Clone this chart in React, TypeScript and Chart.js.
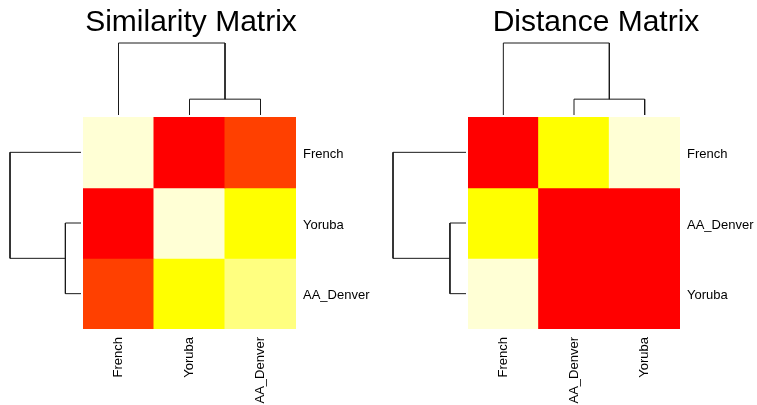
import React, { useEffect, useRef } from 'react';
import { Chart, registerables } from 'chart.js';

Chart.register(...registerables);

const FONT = "'Liberation Sans', Arial, Helvetica, sans-serif";
const LINE_COLOR = '#1a1a1a';

// heat.colors(12): red -> orange -> yellow -> pale yellow
const HEAT_COLORS = [
  '#FF0000', '#FF2000', '#FF4000', '#FF6000', '#FF8000', '#FF9F00',
  '#FFBF00', '#FFDF00', '#FFFF00', '#FFFF2A', '#FFFF80', '#FFFFD5',
];

// Similarity matrix (rows/columns in dendrogram order)
const SIM_TITLE = 'Similarity Matrix';
const SIM_ROWS = ['French', 'Yoruba', 'AA_Denver'];
const SIM_COLS = ['French', 'Yoruba', 'AA_Denver'];
const SIM_VALUES = [
  [1.0, 0.0, 0.2],
  [0.0, 1.0, 0.7],
  [0.2, 0.7, 0.88],
];
// hclust-style merges: negative = leaf (1-based display position), positive = earlier merge
const SIM_MERGE = [[-2, -3], [-1, 1]];
const SIM_HEIGHT = [0.22, 1.0];

// Distance matrix
const DIST_TITLE = 'Distance Matrix';
const DIST_ROWS = ['French', 'AA_Denver', 'Yoruba'];
const DIST_COLS = ['French', 'AA_Denver', 'Yoruba'];
const DIST_VALUES = [
  [0.0, 0.7, 1.0],
  [0.7, 0.0, 0.04],
  [1.0, 0.04, 0.0],
];
const DIST_MERGE = [[-2, -3], [-1, 1]];
const DIST_HEIGHT = [0.22, 1.0];

type Pt = { pos: number; h: number };

function dendroLinks(merge: number[][], height: number[]): Pt[][] {
  const nodes: Pt[] = [];
  const node = (id: number): Pt => (id < 0 ? { pos: -id - 0.5, h: 0 } : nodes[id - 1]);
  const links: Pt[][] = [];
  merge.forEach(([a, b], k) => {
    const na = node(a);
    const nb = node(b);
    const h = height[k];
    links.push([
      { pos: na.pos, h: na.h },
      { pos: na.pos, h },
      { pos: nb.pos, h },
      { pos: nb.pos, h: nb.h },
    ]);
    nodes.push({ pos: (na.pos + nb.pos) / 2, h });
  });
  return links;
}

function colorFor(v: number, values: number[][]): string {
  const flat = values.flat();
  const lo = Math.min(...flat);
  const hi = Math.max(...flat);
  const n = HEAT_COLORS.length;
  const idx = Math.min(n - 1, Math.floor(((v - lo) / (hi - lo)) * n));
  return HEAT_COLORS[idx];
}

// fixed-size axis box; label overhang padding is dropped so the plot area stays put
const fixSize = (dim: 'width' | 'height', size: number) => (s: any) => {
  s[dim] = size;
  s.paddingTop = 0;
  s.paddingBottom = 0;
  s.paddingLeft = 0;
  s.paddingRight = 0;
};

const hiddenAxis = (width: number, position: 'left' | 'right') => ({
  type: 'linear' as const,
  position,
  display: true,
  grid: { display: false, drawTicks: false },
  border: { display: false },
  ticks: { display: false },
  afterFit: fixSize('width', width),
});

function topDendroConfig(title: string, merge: number[][], height: number[], nCols: number, axL: number, axR: number): any {
  const links = dendroLinks(merge, height);
  return {
    type: 'scatter',
    data: {
      datasets: links.map((l) => ({
        data: l.map((p) => ({ x: p.pos, y: p.h })),
        showLine: true,
        borderColor: LINE_COLOR,
        borderWidth: 1,
        pointRadius: 0,
        tension: 0,
        clip: false,
      })),
    },
    options: {
      animation: false,
      responsive: false,
      events: [],
      layout: { padding: { top: 0, bottom: 2, left: 0, right: 0 } },
      plugins: {
        legend: { display: false },
        tooltip: { enabled: false },
        title: {
          display: true,
          text: title,
          color: '#000',
          font: { family: FONT, size: 30, weight: 'normal', lineHeight: 1.2 },
          padding: { top: 5, bottom: 2 },
        },
      },
      scales: {
        x: { type: 'linear', min: 0, max: nCols, display: false },
        y: { ...hiddenAxis(axL, 'left'), min: 0, max: Math.max(...height) },
        y2: { ...hiddenAxis(axR, 'right'), min: 0, max: 1 },
      },
    },
  };
}

function leftDendroConfig(merge: number[][], height: number[], nRows: number, padL: number): any {
  const links = dendroLinks(merge, height);
  return {
    type: 'scatter',
    data: {
      datasets: links.map((l) => ({
        data: l.map((p) => ({ x: p.h, y: p.pos })),
        showLine: true,
        borderColor: LINE_COLOR,
        borderWidth: 1,
        pointRadius: 0,
        tension: 0,
        clip: false,
      })),
    },
    options: {
      animation: false,
      responsive: false,
      events: [],
      layout: { padding: { top: 0, bottom: 0, left: padL, right: 2 } },
      plugins: { legend: { display: false }, tooltip: { enabled: false } },
      scales: {
        x: { type: 'linear', min: 0, max: Math.max(...height), reverse: true, display: false },
        y: { type: 'linear', min: 0, max: nRows, reverse: true, display: false },
      },
    },
  };
}

function heatmapConfig(rows: string[], cols: string[], values: number[][], rightAxis: number, bottomAxis: number): any {
  return {
    type: 'bar',
    data: {
      labels: cols,
      datasets: rows.map((r, i) => ({
        label: r,
        data: cols.map(() => [i, i + 1]),
        backgroundColor: values[i].map((v) => colorFor(v, values)),
        borderWidth: 0,
        barPercentage: 1,
        categoryPercentage: 1,
        grouped: false,
        inflateAmount: 0.5,
      })),
    },
    options: {
      animation: false,
      responsive: false,
      events: [],
      layout: { padding: 0 },
      plugins: { legend: { display: false }, tooltip: { enabled: false } },
      scales: {
        x: {
          type: 'category',
          position: 'bottom',
          grid: { display: false, drawTicks: false },
          border: { display: false },
          ticks: {
            color: '#000',
            font: { family: FONT, size: 13 },
            minRotation: 90,
            maxRotation: 90,
            autoSkip: false,
            padding: 8,
          },
          afterFit: fixSize('height', bottomAxis),
        },
        y: {
          type: 'linear',
          position: 'right',
          min: 0,
          max: rows.length,
          reverse: true,
          grid: { display: false, drawTicks: false },
          border: { display: false },
          afterBuildTicks: (s: any) => {
            s.ticks = rows.map((_, i) => ({ value: i + 0.5 }));
          },
          ticks: {
            color: '#000',
            font: { family: FONT, size: 13 },
            padding: 7,
            labelOffset: 2,
            callback: (_v: any, i: number) => rows[i],
          },
          afterFit: fixSize('width', rightAxis),
        },
      },
    },
  };
}

function ChartBox({ config, left, top, width, height }: { config: any; left: number; top: number; width: number; height: number }) {
  const ref = useRef<HTMLCanvasElement>(null);
  useEffect(() => {
    if (!ref.current) return;
    const chart = new Chart(ref.current, config);
    return () => chart.destroy();
  }, [config]);
  return (
    <div style={{ position: 'absolute', left, top, width, height }}>
      <canvas ref={ref} width={width} height={height} style={{ display: 'block', width, height }} />
    </div>
  );
}

const simTop = topDendroConfig(SIM_TITLE, SIM_MERGE, SIM_HEIGHT, SIM_COLS.length, 83, 86);
const simLeft = leftDendroConfig(SIM_MERGE, SIM_HEIGHT, SIM_ROWS.length, 10);
const simHeat = heatmapConfig(SIM_ROWS, SIM_COLS, SIM_VALUES, 82, 76);

const distTop = topDendroConfig(DIST_TITLE, DIST_MERGE, DIST_HEIGHT, DIST_COLS.length, 33, 77);
const distLeft = leftDendroConfig(DIST_MERGE, DIST_HEIGHT, DIST_ROWS.length, 13);
const distHeat = heatmapConfig(DIST_ROWS, DIST_COLS, DIST_VALUES, 77, 76);

export default function App() {
  return (
    <div style={{ position: 'absolute', left: 0, top: 0, width: 757, height: 405, overflow: 'hidden', background: '#fff' }}>
      <ChartBox config={simTop} left={0} top={0} width={382} height={117} />
      <ChartBox config={simLeft} left={0} top={117} width={83} height={212} />
      <ChartBox config={simHeat} left={83} top={117} width={295} height={288} />
      <ChartBox config={distTop} left={435} top={0} width={322} height={117} />
      <ChartBox config={distLeft} left={380} top={117} width={88} height={212} />
      <ChartBox config={distHeat} left={468} top={117} width={289} height={288} />
    </div>
  );
}
